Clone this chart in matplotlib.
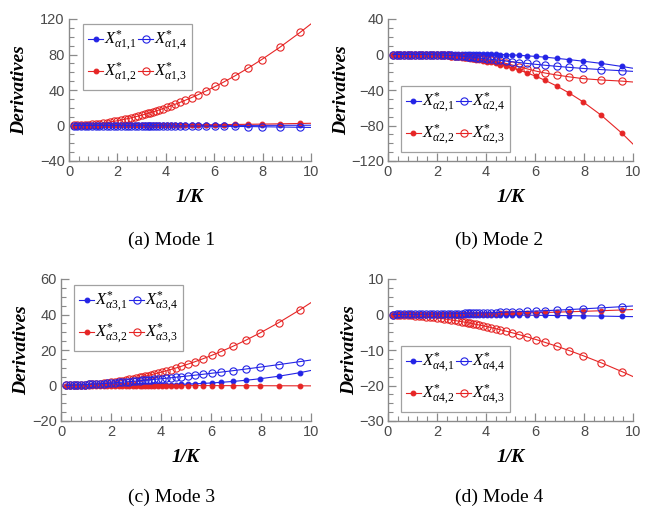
import matplotlib.pyplot as plt
from matplotlib.ticker import MultipleLocator

plt.rcParams['font.family'] = 'Liberation Sans'
plt.rcParams['mathtext.fontset'] = 'custom'
plt.rcParams['mathtext.rm'] = 'Liberation Serif'
plt.rcParams['mathtext.it'] = 'Liberation Serif:italic'
plt.rcParams['mathtext.bf'] = 'Liberation Serif:bold'

# 1/K sample positions (last point only carries the line to the axis end)
x_grid = [0.2, 0.35, 0.5, 0.65, 0.8, 0.95, 1.1, 1.25, 1.4, 1.55, 1.7, 1.85, 2.0, 2.15, 2.3,
          2.44, 2.58, 2.72, 2.87, 3.0, 3.14, 3.25, 3.36, 3.47, 3.6, 3.73, 3.88, 4.03, 4.2,
          4.39, 4.59, 4.8, 5.07, 5.35, 5.68, 6.04, 6.4, 6.88, 7.4, 7.96, 8.7, 9.55, 10.0]

# Mode 1
a1_1 = [0.0, 0.0, 0.0, 0.0, 0.0, 0.0, 0.0, 0.0, 0.01, 0.01, 0.01, 0.01, 0.01, 0.01, 0.02,
        0.02, 0.02, 0.02, 0.02, 0.03, 0.03, 0.03, 0.03, 0.04, 0.04, 0.04, 0.05, 0.05, 0.05,
        0.06, 0.06, 0.07, 0.08, 0.09, 0.1, 0.11, 0.12, 0.14, 0.16, 0.19, 0.23, 0.27, 0.3]
a1_2 = [0.0, 0.0, 0.01, 0.01, 0.02, 0.02, 0.03, 0.04, 0.05, 0.06, 0.07, 0.09, 0.1, 0.12, 0.13,
        0.15, 0.17, 0.18, 0.21, 0.23, 0.25, 0.26, 0.28, 0.3, 0.32, 0.35, 0.38, 0.41, 0.44,
        0.48, 0.53, 0.58, 0.64, 0.72, 0.81, 0.91, 1.02, 1.18, 1.37, 1.58, 1.89, 2.28, 2.5]
a1_3 = [0.07, 0.2, 0.39, 0.64, 0.94, 1.31, 1.73, 2.2, 2.73, 3.32, 3.95, 4.64, 5.38, 6.18, 7.02,
        7.85, 8.73, 9.65, 10.69, 11.63, 12.68, 13.54, 14.42, 15.33, 16.44, 17.59, 18.96, 20.37, 22.04,
        23.97, 26.09, 28.4, 31.51, 34.9, 39.11, 43.95, 49.06, 56.28, 64.66, 74.26, 87.9, 104.9, 114.5]
a1_4 = [0.0, 0.0, -0.01, -0.01, -0.01, -0.02, -0.03, -0.03, -0.04, -0.05, -0.06, -0.08, -0.09, -0.1, -0.12,
        -0.13, -0.15, -0.16, -0.18, -0.2, -0.22, -0.23, -0.25, -0.26, -0.29, -0.31, -0.33, -0.36, -0.39,
        -0.42, -0.46, -0.51, -0.57, -0.63, -0.71, -0.8, -0.9, -1.04, -1.2, -1.39, -1.67, -2.01, -2.2]

# Mode 2
a2_1 = [0.0, 0.01, 0.02, 0.03, 0.04, 0.05, 0.06, 0.08, 0.1, 0.12, 0.14, 0.16, 0.18, 0.2, 0.22,
        0.24, 0.26, 0.28, 0.3, 0.3, 0.3, 0.3, 0.3, 0.3, 0.3, 0.3, 0.3, 0.25, 0.2,
        0.1, 0.0, -0.2, -0.5, -0.9, -1.5, -2.2, -3.0, -4.3, -5.8, -7.5, -10.0, -13.5, -15.5]
a2_2 = [0.0, -0.01, -0.02, -0.05, -0.09, -0.14, -0.21, -0.3, -0.41, -0.55, -0.71, -0.9, -1.11, -1.37, -1.65,
        -1.94, -2.27, -2.64, -3.06, -3.47, -3.94, -4.34, -4.76, -5.21, -5.78, -6.38, -7.13, -7.93, -8.9,
        -10.07, -11.41, -12.93, -15.07, -17.52, -20.72, -24.61, -28.94, -35.44, -43.46, -53.31, -68.37, -88.77, -100.96]
a2_3 = [0.0, -0.01, -0.02, -0.03, -0.05, -0.08, -0.12, -0.17, -0.23, -0.3, -0.39, -0.5, -0.62, -0.76, -0.92,
        -1.1, -1.3, -1.55, -1.85, -2.1, -2.5, -2.8, -3.1, -3.5, -4.0, -4.5, -5.1, -5.8, -6.6,
        -7.6, -8.7, -10.0, -11.8, -13.8, -16.2, -18.7, -20.8, -23.1, -25.2, -27.2, -28.7, -30.0, -31.0]
a2_4 = [0.0, 0.0, 0.0, 0.0, -0.01, -0.02, -0.04, -0.07, -0.11, -0.16, -0.23, -0.32, -0.43, -0.56, -0.72,
        -0.9, -1.1, -1.35, -1.6, -1.9, -2.2, -2.5, -2.8, -3.1, -3.5, -3.9, -4.4, -4.9, -5.4,
        -6.0, -6.7, -7.4, -8.2, -9.1, -10.1, -11.1, -12.1, -13.3, -14.5, -15.7, -17.0, -18.3, -19.0]

# Mode 3
a3_1 = [0.0, 0.0, 0.0, 0.0, 0.0, 0.0, 0.0, 0.01, 0.01, 0.01, 0.02, 0.02, 0.03, 0.04, 0.05,
        0.06, 0.07, 0.09, 0.11, 0.13, 0.15, 0.17, 0.19, 0.21, 0.24, 0.27, 0.31, 0.35, 0.41,
        0.48, 0.56, 0.65, 0.79, 0.95, 1.17, 1.45, 1.78, 2.29, 2.95, 3.81, 5.21, 7.21, 8.48]
a3_2 = [0.0, 0.0, 0.0, 0.0, 0.0, 0.0, 0.0, 0.0, 0.0, 0.0, -0.01, -0.01, -0.01, -0.01, -0.01,
        -0.01, -0.01, -0.01, -0.02, -0.02, -0.02, -0.02, -0.02, -0.02, -0.03, -0.03, -0.03, -0.03, -0.04,
        -0.04, -0.04, -0.05, -0.05, -0.06, -0.06, -0.07, -0.08, -0.09, -0.11, -0.13, -0.15, -0.18, -0.2]
a3_3 = [0.02, 0.06, 0.12, 0.2, 0.3, 0.42, 0.57, 0.73, 0.92, 1.12, 1.35, 1.6, 1.87, 2.16, 2.47,
        2.78, 3.11, 3.46, 3.85, 4.2, 4.6, 4.93, 5.27, 5.62, 6.05, 6.5, 7.03, 7.59, 8.24,
        9.0, 9.84, 10.76, 12.0, 13.37, 15.07, 17.04, 19.13, 22.11, 25.57, 29.59, 35.35, 42.59, 46.7]
a3_4 = [0.05, 0.11, 0.19, 0.27, 0.37, 0.47, 0.59, 0.71, 0.83, 0.96, 1.1, 1.24, 1.39, 1.55, 1.71,
        1.86, 2.02, 2.18, 2.35, 2.51, 2.68, 2.82, 2.96, 3.1, 3.27, 3.44, 3.64, 3.85, 4.09,
        4.36, 4.65, 4.96, 5.37, 5.8, 6.33, 6.92, 7.53, 8.36, 9.29, 10.33, 11.75, 13.44, 14.37]

# Mode 4
a4_1 = [0.0, 0.0, 0.0, 0.0, 0.0, -0.01, -0.01, -0.01, -0.01, -0.01, -0.02, -0.02, -0.02, -0.03, -0.03,
        -0.04, -0.04, -0.04, -0.05, -0.05, -0.06, -0.06, -0.07, -0.07, -0.08, -0.08, -0.09, -0.1, -0.11,
        -0.12, -0.13, -0.14, -0.15, -0.17, -0.19, -0.22, -0.25, -0.28, -0.33, -0.38, -0.45, -0.55, -0.6]
a4_2 = [0.0, 0.0, 0.0, 0.01, 0.01, 0.01, 0.02, 0.02, 0.03, 0.03, 0.04, 0.05, 0.06, 0.07, 0.07,
        0.08, 0.09, 0.1, 0.12, 0.13, 0.14, 0.15, 0.16, 0.17, 0.18, 0.2, 0.21, 0.23, 0.25,
        0.27, 0.3, 0.32, 0.36, 0.4, 0.45, 0.51, 0.57, 0.66, 0.77, 0.89, 1.06, 1.28, 1.4]
a4_3 = [-0.02, -0.04, -0.08, -0.13, -0.19, -0.25, -0.33, -0.41, -0.51, -0.61, -0.72, -0.84, -0.97, -1.1, -1.24,
        -1.38, -1.53, -1.68, -1.85, -2.0, -2.17, -2.31, -2.45, -2.6, -2.78, -2.96, -3.18, -3.41, -3.67,
        -3.97, -4.3, -4.66, -5.15, -5.67, -6.32, -7.05, -7.83, -8.92, -10.17, -11.59, -13.6, -16.09, -17.48]
a4_4 = [0.0, 0.01, 0.01, 0.02, 0.03, 0.04, 0.05, 0.06, 0.07, 0.08, 0.1, 0.12, 0.13, 0.15, 0.17,
        0.19, 0.21, 0.23, 0.25, 0.28, 0.3, 0.32, 0.34, 0.36, 0.38, 0.41, 0.44, 0.47, 0.5,
        0.55, 0.59, 0.64, 0.71, 0.78, 0.87, 0.97, 1.07, 1.22, 1.4, 1.59, 1.87, 2.21, 2.4]

y_limits = [(-40, 120), (-120, 40), (-20, 60), (-30, 10)]
y_major = [40, 40, 20, 10]
captions = ['(a) Mode 1', '(b) Mode 2', '(c) Mode 3', '(d) Mode 4']
all_series = [[a1_1, a1_2, a1_3, a1_4], [a2_1, a2_2, a2_3, a2_4],
              [a3_1, a3_2, a3_3, a3_4], [a4_1, a4_2, a4_3, a4_4]]

W, H = 658, 512
# axes boxes in pixels: left, top, width, height
boxes = [(69, 19, 242, 142), (388, 19, 245, 142), (61, 279, 250, 142), (388, 279, 245, 142)]
legend_spots = [('upper left', (0.058, 0.965)), ('lower left', (0.053, 0.063)),
                ('upper left', (0.052, 0.958)), ('lower left', (0.053, 0.063))]
ylabel_x = [-0.17, -0.155, -0.125, -0.12]
caption_xy = [(172, 240), (499, 240), (172, 497), (499, 497)]

BLUE = '#2323e6'
RED = '#e62525'
# index 0..3 -> X_1 (filled blue), X_2 (filled red), X_3 (open red), X_4 (open blue)
styles = [dict(color=BLUE, mfc=BLUE, ms=3.4),
          dict(color=RED, mfc=RED, ms=3.4),
          dict(color=RED, mfc='none', ms=5.2),
          dict(color=BLUE, mfc='none', ms=5.2)]

fig = plt.figure(figsize=(W / 100, H / 100), dpi=100)
marks = list(range(len(x_grid) - 1))

for p in range(4):
    l, t, w, h = boxes[p]
    ax = fig.add_axes([l / W, 1 - (t + h) / H, w / W, h / H])
    handles = []
    for j, ys in enumerate(all_series[p]):
        st = styles[j]
        line, = ax.plot(x_grid, ys, '-', color=st['color'], lw=0.8, marker='o',
                        ms=st['ms'], mfc=st['mfc'], mec=st['color'], mew=0.8,
                        markevery=marks,
                        label=r'$X^{*}_{\mathit{\alpha %d{,}%d}}$' % (p + 1, j + 1))
        handles.append(line)

    ax.set_xlim(0, 10)
    ax.set_ylim(*y_limits[p])
    ax.xaxis.set_major_locator(MultipleLocator(2))
    ax.xaxis.set_minor_locator(MultipleLocator(0.4))
    ax.yaxis.set_major_locator(MultipleLocator(y_major[p]))
    ax.yaxis.set_minor_locator(MultipleLocator(y_major[p] / 4))
    for s in ['top', 'right']:
        ax.spines[s].set_visible(False)
    for s in ['left', 'bottom']:
        ax.spines[s].set_color('#8a8a8a')
        ax.spines[s].set_linewidth(1.0)
    ax.tick_params(which='both', direction='in', color='#8a8a8a', labelcolor='#4a4a4a',
                   labelsize=10.5, pad=3)
    ax.tick_params(which='major', length=6, width=0.9)
    ax.tick_params(which='minor', length=3.5, width=0.8)

    ax.set_ylabel('Derivatives', family='Liberation Serif', fontsize=14,
                  fontweight='bold', style='italic')
    ax.yaxis.set_label_coords(ylabel_x[p], 0.5)
    ax.set_xlabel('1/K', family='Liberation Serif', fontsize=14,
                  fontweight='bold', style='italic')
    ax.xaxis.set_label_coords(0.5, -0.2)

    order = [handles[0], handles[1], handles[3], handles[2]]
    loc, anchor = legend_spots[p]
    leg = ax.legend(order, [h.get_label() for h in order],
                    ncol=2, loc=loc, bbox_to_anchor=anchor, borderaxespad=0,
                    fontsize=12, frameon=True, fancybox=False, handlelength=0.9,
                    handletextpad=0.05, columnspacing=0.1, labelspacing=0.45,
                    borderpad=0.3)
    leg.get_frame().set_edgecolor('#8a8a8a')
    leg.get_frame().set_linewidth(0.9)

    cx, cy = caption_xy[p]
    fig.text(cx / W, 1 - cy / H, captions[p], family='Liberation Serif', fontsize=14,
             ha='center', va='center')

fig.savefig('out.png', dpi=100)
